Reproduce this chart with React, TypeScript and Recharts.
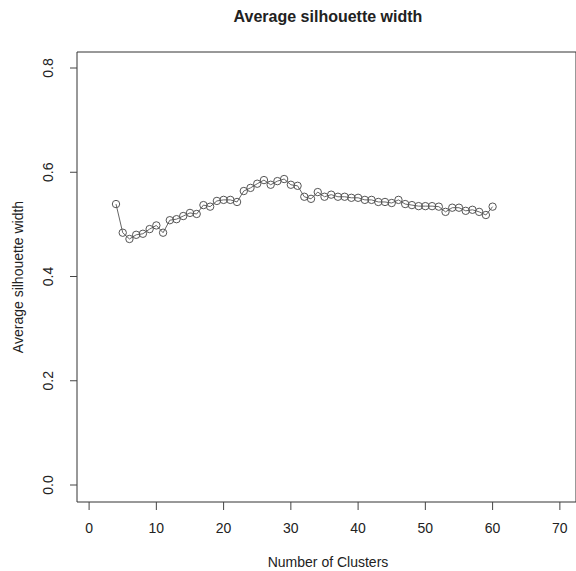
import { LineChart, Line, XAxis, YAxis, ReferenceArea } from 'recharts';

const clusters = [
  4, 5, 6, 7, 8, 9, 10, 11, 12, 13, 14, 15, 16, 17, 18, 19, 20, 21, 22, 23,
  24, 25, 26, 27, 28, 29, 30, 31, 32, 33, 34, 35, 36, 37, 38, 39, 40, 41, 42,
  43, 44, 45, 46, 47, 48, 49, 50, 51, 52, 53, 54, 55, 56, 57, 58, 59, 60,
];
const silhouette = [
  0.539, 0.484, 0.472, 0.480, 0.482, 0.491, 0.498, 0.484, 0.508, 0.510,
  0.516, 0.522, 0.520, 0.537, 0.534, 0.545, 0.547, 0.547, 0.543, 0.564,
  0.570, 0.578, 0.585, 0.576, 0.583, 0.587, 0.576, 0.574, 0.553, 0.549,
  0.562, 0.553, 0.557, 0.553, 0.553, 0.551, 0.551, 0.547, 0.547, 0.543,
  0.543, 0.541, 0.547, 0.539, 0.537, 0.535, 0.535, 0.535, 0.534, 0.524,
  0.532, 0.532, 0.526, 0.528, 0.524, 0.518, 0.534,
];
const xTicks = [0, 10, 20, 30, 40, 50, 60, 70];
const yTicks = [0, 0.2, 0.4, 0.6, 0.8];

const X_DOMAIN: [number, number] = [-1.8, 72.4];
const Y_DOMAIN: [number, number] = [-0.0326, 0.8307];

const FONT = '"Liberation Sans", Arial, sans-serif';
const INK = '#222';

const data = clusters.map((k, i) => ({ k, width: silhouette[i] }));

function XTick({ x, y, payload }: any) {
  return (
    <text x={x} y={y + 21} textAnchor="middle" fontSize={14} fontFamily={FONT} fill={INK}>
      {payload.value}
    </text>
  );
}

function YTick({ x, y, payload }: any) {
  const cx = x - 20;
  return (
    <text
      x={cx}
      y={y}
      transform={`rotate(-90, ${cx}, ${y})`}
      textAnchor="middle"
      dominantBaseline="central"
      fontSize={14}
      fontFamily={FONT}
      fill={INK}
    >
      {payload.value.toFixed(1)}
    </text>
  );
}

export default function App() {
  return (
    <div style={{ position: 'absolute', left: 0, top: 0, width: 576, height: 571, background: '#fff' }}>
      <LineChart width={576} height={571} data={data} margin={{ top: 52, right: 0, bottom: 9, left: 17 }}>
        <XAxis
          type="number"
          dataKey="k"
          domain={X_DOMAIN}
          ticks={xTicks}
          allowDataOverflow
          axisLine={false}
          tickSize={8}
          tickLine={{ stroke: '#444' }}
          tick={<XTick />}
          height={60}
        />
        <YAxis
          type="number"
          domain={Y_DOMAIN}
          ticks={yTicks}
          allowDataOverflow
          axisLine={false}
          tickSize={7}
          tickLine={{ stroke: '#444' }}
          tick={<YTick />}
          width={60}
        />
        <ReferenceArea
          x1={X_DOMAIN[0]}
          x2={X_DOMAIN[1]}
          y1={Y_DOMAIN[0]}
          y2={Y_DOMAIN[1]}
          fill="none"
          stroke="#333"
          strokeWidth={1}
          ifOverflow="visible"
        />
        <Line
          dataKey="width"
          stroke="#666"
          strokeWidth={1}
          dot={{ r: 3.7, stroke: '#555', strokeWidth: 1, fill: 'none' }}
          isAnimationActive={false}
        />
        <text x={328} y={22} textAnchor="middle" fontSize={16} fontWeight="bold" fontFamily={FONT} fill={INK}>
          Average silhouette width
        </text>
        <text
          x={18}
          y={277}
          transform="rotate(-90, 18, 277)"
          textAnchor="middle"
          dominantBaseline="central"
          fontSize={14}
          fontFamily={FONT}
          fill={INK}
        >
          Average silhouette width
        </text>
        <text x={328} y={567} textAnchor="middle" fontSize={14} fontFamily={FONT} fill={INK}>
          Number of Clusters
        </text>
      </LineChart>
    </div>
  );
}
